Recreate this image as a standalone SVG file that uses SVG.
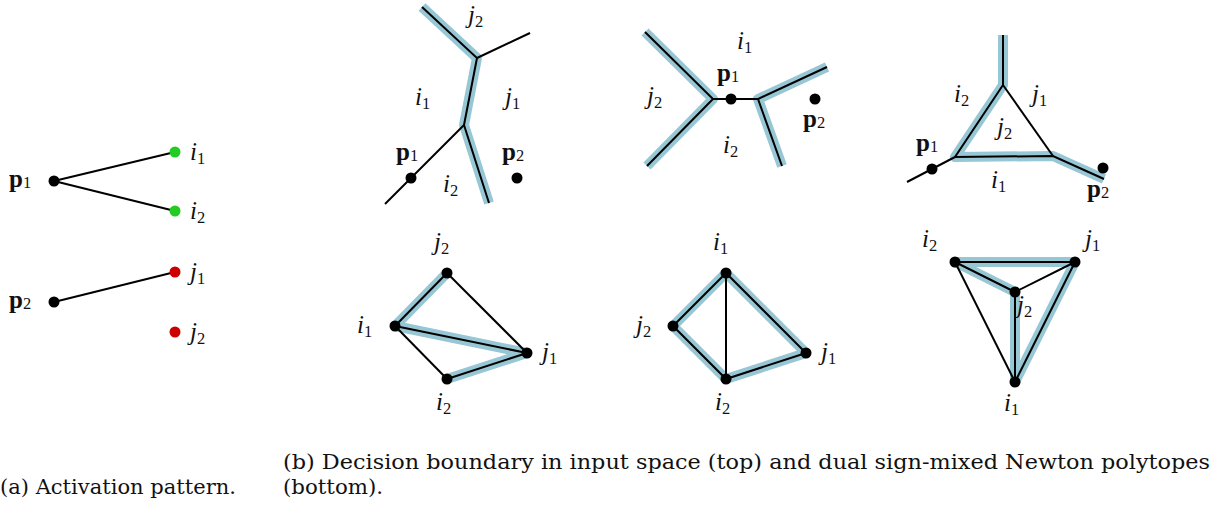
<svg xmlns="http://www.w3.org/2000/svg" width="1217" height="510" viewBox="0 0 1217 510">
<style>
.hl{fill:none;stroke:#97c7d4;stroke-width:10;stroke-linejoin:round;stroke-linecap:butt}
.ln{fill:none;stroke:#000;stroke-width:2;stroke-linecap:butt}
.m{font-family:"Liberation Serif","DejaVu Serif",serif;font-size:25px;font-style:italic;fill:#111}
.b{font-family:"Liberation Serif","DejaVu Serif",serif;font-size:25px;font-weight:bold;fill:#111}
.s{font-size:16.5px;font-style:normal;font-weight:normal}
.cap{font-family:"DejaVu Serif","Liberation Serif",serif;font-size:19.5px;fill:#111}
</style>
<rect width="1217" height="510" fill="#fff"/>

<!-- (a) Activation pattern -->
<g id="panel-a">
  <g id="connectors-a">
    <line class="ln" x1="54" y1="181" x2="175" y2="152"/>
    <line class="ln" x1="54" y1="181" x2="175" y2="211"/>
    <line class="ln" x1="54" y1="302" x2="175" y2="272"/>
  </g>
  <g id="a-p1"><circle cx="54" cy="181" r="5.5" fill="#000"/><text class="b" x="9" y="187">p<tspan class="s" dy="1">1</tspan></text></g>
  <g id="a-p2"><circle cx="54" cy="302" r="5.5" fill="#000"/><text class="b" x="9" y="308">p<tspan class="s" dy="1">2</tspan></text></g>
  <g id="a-i1"><circle cx="175" cy="152" r="5.5" fill="#22cc22"/><text class="m" x="190" y="160">i<tspan class="s" dy="4">1</tspan></text></g>
  <g id="a-i2"><circle cx="175" cy="211" r="5.5" fill="#22cc22"/><text class="m" x="190" y="219">i<tspan class="s" dy="4">2</tspan></text></g>
  <g id="a-j1"><circle cx="175" cy="272" r="5.5" fill="#cc0000"/><text class="m" x="190" y="280">j<tspan class="s" dy="4">1</tspan></text></g>
  <g id="a-j2"><circle cx="175" cy="332" r="5.5" fill="#cc0000"/><text class="m" x="190" y="340">j<tspan class="s" dy="4">2</tspan></text></g>
</g>

<!-- Top row: decision boundaries -->
<g id="top1">
  <g id="connectors-top1">
    <polyline class="hl" points="422,7 477,58 464,125 489,203"/>
    <polyline class="ln" points="422,7 477,58 464,125 489,203"/>
    <line class="ln" x1="477" y1="58" x2="530" y2="33"/>
    <line class="ln" x1="464" y1="125" x2="385" y2="204"/>
  </g>
  <g id="t1-p1"><circle cx="411" cy="178" r="5.5"/><text class="b" x="396" y="160">p<tspan class="s" dy="1">1</tspan></text></g>
  <g id="t1-p2"><circle cx="517" cy="178" r="5.5"/><text class="b" x="502" y="160">p<tspan class="s" dy="1">2</tspan></text></g>
  <g id="t1-labels">
    <text class="m" x="468" y="23">j<tspan class="s" dy="4">2</tspan></text>
    <text class="m" x="415" y="105">i<tspan class="s" dy="4">1</tspan></text>
    <text class="m" x="505" y="105">j<tspan class="s" dy="4">1</tspan></text>
    <text class="m" x="443" y="192">i<tspan class="s" dy="4">2</tspan></text>
  </g>
</g>

<g id="top2">
  <g id="connectors-top2">
    <polyline class="hl" points="645,32 713,99 647,166"/>
    <polyline class="ln" points="645,32 713,99 647,166"/>
    <polyline class="hl" points="827,67 758,99 782,166"/>
    <polyline class="ln" points="827,67 758,99 782,166"/>
    <line class="ln" x1="713" y1="99" x2="758" y2="99"/>
  </g>
  <g id="t2-p1"><circle cx="731" cy="99" r="5.5"/><text class="b" x="717" y="81">p<tspan class="s" dy="1">1</tspan></text></g>
  <g id="t2-p2"><circle cx="815" cy="99" r="5.5"/><text class="b" x="803" y="127">p<tspan class="s" dy="1">2</tspan></text></g>
  <g id="t2-labels">
    <text class="m" x="737" y="49">i<tspan class="s" dy="4">1</tspan></text>
    <text class="m" x="647" y="104">j<tspan class="s" dy="4">2</tspan></text>
    <text class="m" x="723" y="153">i<tspan class="s" dy="4">2</tspan></text>
  </g>
</g>

<g id="top3">
  <g id="connectors-top3">
    <polyline class="hl" points="1003,35 1003,85 955,157 1053,156 1104,179"/>
    <polyline class="ln" points="1003,35 1003,85 955,157 1053,156 1104,179"/>
    <line class="ln" x1="1003" y1="85" x2="1053" y2="156"/>
    <line class="ln" x1="955" y1="157" x2="907" y2="182"/>
  </g>
  <g id="t3-p1"><circle cx="932" cy="169" r="5.5"/><text class="b" x="916" y="151">p<tspan class="s" dy="1">1</tspan></text></g>
  <g id="t3-p2"><circle cx="1103" cy="168" r="5.5"/><text class="b" x="1087" y="197">p<tspan class="s" dy="1">2</tspan></text></g>
  <g id="t3-labels">
    <text class="m" x="954" y="102">i<tspan class="s" dy="4">2</tspan></text>
    <text class="m" x="1032" y="102">j<tspan class="s" dy="4">1</tspan></text>
    <text class="m" x="997" y="135">j<tspan class="s" dy="4">2</tspan></text>
    <text class="m" x="991" y="188">i<tspan class="s" dy="4">1</tspan></text>
  </g>
</g>

<!-- Bottom row: Newton polytopes -->
<g id="bot1">
  <g id="connectors-bot1">
    <polyline class="hl" points="447,273 395,326 527,353 447,379"/>
    <line class="ln" x1="447" y1="273" x2="395" y2="326"/>
    <line class="ln" x1="395" y1="326" x2="527" y2="353"/>
    <line class="ln" x1="527" y1="353" x2="447" y2="379"/>
    <line class="ln" x1="447" y1="273" x2="527" y2="353"/>
    <line class="ln" x1="395" y1="326" x2="447" y2="379"/>
  </g>
  <g id="b1-j2"><circle cx="447" cy="273" r="5.5"/><text class="m" x="434" y="250">j<tspan class="s" dy="4">2</tspan></text></g>
  <g id="b1-i1"><circle cx="395" cy="326" r="5.5"/><text class="m" x="357" y="333">i<tspan class="s" dy="4">1</tspan></text></g>
  <g id="b1-j1"><circle cx="527" cy="353" r="5.5"/><text class="m" x="542" y="360">j<tspan class="s" dy="4">1</tspan></text></g>
  <g id="b1-i2"><circle cx="447" cy="379" r="5.5"/><text class="m" x="436" y="410">i<tspan class="s" dy="4">2</tspan></text></g>
</g>

<g id="bot2">
  <g id="connectors-bot2">
    <polygon class="hl" points="726,273 673,326 726,379 806,353"/>
    <polygon class="ln" points="726,273 673,326 726,379 806,353"/>
    <line class="ln" x1="726" y1="273" x2="726" y2="379"/>
  </g>
  <g id="b2-i1"><circle cx="726" cy="273" r="5.5"/><text class="m" x="713" y="250">i<tspan class="s" dy="4">1</tspan></text></g>
  <g id="b2-j2"><circle cx="673" cy="326" r="5.5"/><text class="m" x="636" y="333">j<tspan class="s" dy="4">2</tspan></text></g>
  <g id="b2-j1"><circle cx="806" cy="353" r="5.5"/><text class="m" x="821" y="360">j<tspan class="s" dy="4">1</tspan></text></g>
  <g id="b2-i2"><circle cx="726" cy="379" r="5.5"/><text class="m" x="715" y="410">i<tspan class="s" dy="4">2</tspan></text></g>
</g>

<g id="bot3">
  <g id="connectors-bot3">
    <polygon class="hl" points="955,262 1075,262 1015,382 1015,292"/>
    <line class="ln" x1="955" y1="262" x2="1075" y2="262"/>
    <line class="ln" x1="955" y1="262" x2="1015" y2="292"/>
    <line class="ln" x1="1015" y1="292" x2="1015" y2="382"/>
    <line class="ln" x1="1015" y1="382" x2="1075" y2="262"/>
    <line class="ln" x1="1015" y1="292" x2="1075" y2="262"/>
    <line class="ln" x1="955" y1="262" x2="1015" y2="382"/>
  </g>
  <g id="b3-i2"><circle cx="955" cy="262" r="5.5"/><text class="m" x="922" y="247">i<tspan class="s" dy="4">2</tspan></text></g>
  <g id="b3-j1"><circle cx="1075" cy="262" r="5.5"/><text class="m" x="1085" y="247">j<tspan class="s" dy="4">1</tspan></text></g>
  <g id="b3-j2"><circle cx="1015" cy="292" r="5.5"/><text class="m" x="1017" y="313">j<tspan class="s" dy="4">2</tspan></text></g>
  <g id="b3-i1"><circle cx="1015" cy="382" r="5.5"/><text class="m" x="1004" y="411">i<tspan class="s" dy="4">1</tspan></text></g>
</g>

<!-- Captions -->
<g id="captions">
  <text class="cap" x="0" y="494" textLength="236" lengthAdjust="spacingAndGlyphs">(a) Activation pattern.</text>
  <text class="cap" x="283" y="469" textLength="927" lengthAdjust="spacingAndGlyphs">(b) Decision boundary in input space (top) and dual sign-mixed Newton polytopes</text>
  <text class="cap" x="283" y="494" textLength="100" lengthAdjust="spacingAndGlyphs">(bottom).</text>
</g>
</svg>
